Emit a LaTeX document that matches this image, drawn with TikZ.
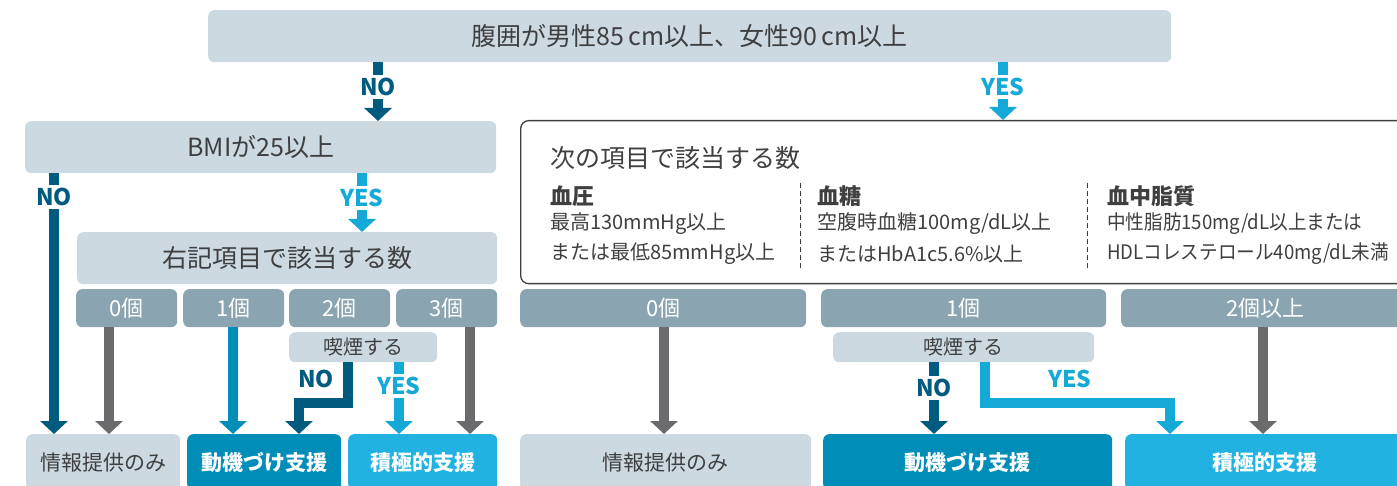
\documentclass[tikz,border=0pt]{standalone}
\usepackage{fontspec}
\setmainfont{Noto Sans CJK JP}
\newfontfamily\narrowjp{Noto Sans CJK JP}[FakeStretch=0.93]
\usetikzlibrary{arrows.meta,positioning}
\definecolor{boxgray}{HTML}{CCD9E1}
\definecolor{cntgray}{HTML}{8AA5B1}
\definecolor{nodark}{HTML}{005B7F}
\definecolor{midblue}{HTML}{008DB8}
\definecolor{yesblue}{HTML}{15A9D8}
\definecolor{skyblue}{HTML}{22B2E1}
\definecolor{arrgray}{HTML}{6B6B6E}
\definecolor{txtgray}{HTML}{3F3F3F}
\tikzstyle{every node}+=[inner sep=0pt]
\tikzstyle{qbox}=[fill=boxgray, rounded corners=6pt, text=txtgray, anchor=north west, minimum height=52pt, font=\fontsize{25}{28}\selectfont]
\tikzstyle{cntbox}=[fill=cntgray, rounded corners=6pt, text=white, anchor=north west, minimum height=38pt, font=\fontsize{22}{24}\selectfont]
\tikzstyle{smokebox}=[fill=boxgray, rounded corners=6pt, text=txtgray, anchor=north west, minimum height=30pt, font=\fontsize{20}{22}\selectfont]
\tikzstyle{resbox}=[rounded corners=6pt, anchor=north west, minimum height=56pt, font=\fontsize{21}{24}\selectfont]
\tikzstyle{arr}=[line width=10pt, -{Triangle[width=27pt,length=13pt]}]
\tikzstyle{lbl}=[fill=white, inner sep=3pt, font=\bfseries\fontsize{23}{24}\selectfont]
\tikzstyle{crittxt}=[anchor=west, text=txtgray, font=\fontsize{20}{22}\selectfont]
\tikzstyle{crithead}=[anchor=west, text=txtgray, font=\bfseries\fontsize{22}{24}\selectfont]
\begin{document}
\begin{tikzpicture}[x=1pt,y=-1pt]
\useasboundingbox (0,0) rectangle (1397,486);
\clip (0,0) rectangle (1397,486);

% boxes
\node[qbox, minimum width=963pt] (waist) at (208,10) {腹囲が男性85\,cm以上、女性90\,cm以上};
\node[qbox, minimum width=471pt] (bmi) at (25,121) {BMIが25以上};
\node[qbox, minimum width=420pt] (items) at (77,232) {右記項目で該当する数};
\node[cntbox, minimum width=101pt] (zeroA) at (76,289) {0個};
\node[cntbox, minimum width=101pt] (oneA) at (183,289) {1個};
\node[cntbox, minimum width=101pt] (twoA) at (289,289) {2個};
\node[cntbox, minimum width=101pt] (threeA) at (396,289) {3個};
\node[smokebox, minimum width=148pt] (smokeA) at (289,332) {喫煙する};
\node[resbox, fill=boxgray, text=txtgray, minimum width=154pt] (infoA) at (26,434) {情報提供のみ};
\node[resbox, fill=midblue, text=white, minimum width=154pt, font=\bfseries\fontsize{21}{24}\selectfont] (motA) at (187,434) {動機づけ支援};
\node[resbox, fill=skyblue, text=white, minimum width=149pt, font=\bfseries\fontsize{21}{24}\selectfont] (posA) at (348,434) {積極的支援};

\node[draw=txtgray, line width=1.3pt, rounded corners=8pt, anchor=north west, minimum width=900pt, minimum height=163pt] (crit) at (520,120) {};
\node[anchor=west, text=txtgray, font=\fontsize{25}{28}\selectfont] (critT) at (550,158) {次の項目で該当する数};
\node[crithead] (bpH) at (550,196) {血圧};
\node[crittxt] (bp1) at (550,224) {最高130mmHg以上};
\node[crittxt] (bp2) at (550,254) {または最低85mmHg以上};
\node[crithead] (bsH) at (817,196) {血糖};
\node[crittxt] (bs1) at (817,224) {空腹時血糖100mg/dL以上};
\node[crittxt] (bs2) at (817,254) {またはHbA1c5.6\%以上};
\node[crithead] (lpH) at (1107,196) {血中脂質};
\node[crittxt, font=\narrowjp\fontsize{20}{22}\selectfont] (lp1) at (1107,224) {中性脂肪150mg/dL以上または};
\node[crittxt, font=\narrowjp\fontsize{20}{22}\selectfont] (lp2) at (1107,254) {HDLコレステロール40mg/dL未満};
\draw[txtgray, line width=0.8pt, dash pattern=on 5pt off 3pt] (800,183) -- (800,268);
\draw[txtgray, line width=0.8pt, dash pattern=on 5pt off 3pt] (1087,183) -- (1087,268);

\node[cntbox, minimum width=286pt] (zeroB) at (520,289) {0個};
\node[cntbox, minimum width=285pt] (oneB) at (821,289) {1個};
\node[cntbox, minimum width=288pt] (twoB) at (1121,289) {2個以上};
\node[smokebox, minimum width=261pt] (smokeB) at (833,332) {喫煙する};
\node[resbox, fill=boxgray, text=txtgray, minimum width=291pt] (infoB) at (520,434) {情報提供のみ};
\node[resbox, fill=midblue, text=white, minimum width=289pt, font=\bfseries\fontsize{21}{24}\selectfont] (motB) at (823,434) {動機づけ支援};
\node[resbox, fill=skyblue, text=white, minimum width=280pt, font=\bfseries\fontsize{21}{24}\selectfont] (posB) at (1125,434) {積極的支援};

% arrow columns
\coordinate (cWaistNo) at (378,0);
\coordinate (cWaistYes) at (1003,0);
\coordinate (cBmiNo) at (54,0);
\coordinate (cBmiYes) at (362,0);
\coordinate (cZeroA) at (109,0);
\coordinate (cOneA) at (233,0);
\coordinate (cSmkYesA) at (399,0);
\coordinate (cThreeA) at (470,0);
\coordinate (bendA1) at (348,403);
\coordinate (bendA2) at (299,403);
\coordinate (cZeroB) at (664,0);
\coordinate (cSmkNoB) at (934,0);
\coordinate (bendB1) at (985,403);
\coordinate (bendB2) at (1170,403);
\coordinate (cTwoB) at (1263,0);

% arrows
\draw[arr, nodark] (waist.south -| cWaistNo) -- (bmi.north -| cWaistNo);
\draw[arr, yesblue] (waist.south -| cWaistYes) -- (crit.north -| cWaistYes);
\draw[arr, nodark] (bmi.south -| cBmiNo) -- (infoA.north -| cBmiNo);
\draw[arr, yesblue] (bmi.south -| cBmiYes) -- (items.north -| cBmiYes);
\draw[arr, arrgray] (zeroA.south -| cZeroA) -- (infoA.north -| cZeroA);
\draw[arr, midblue] (oneA.south -| cOneA) -- (motA.north -| cOneA);
\draw[arr, nodark] (smokeA.south -| bendA1) -- (bendA1) -- (bendA2) -- (motA.north -| bendA2);
\draw[arr, yesblue] (smokeA.south -| cSmkYesA) -- (posA.north -| cSmkYesA);
\draw[arr, arrgray] (threeA.south -| cThreeA) -- (posA.north -| cThreeA);
\draw[arr, arrgray] (zeroB.south -| cZeroB) -- (infoB.north -| cZeroB);
\draw[arr, nodark] (smokeB.south -| cSmkNoB) -- (motB.north -| cSmkNoB);
\draw[arr, yesblue] (smokeB.south -| bendB1) -- (bendB1) -- (bendB2) -- (posB.north -| bendB2);
\draw[arr, arrgray] (twoB.south -| cTwoB) -- (posB.north -| cTwoB);

% labels
\node[lbl, text=nodark] (noWaist) at (378,87) {NO};
\node[lbl, text=yesblue] (yesWaist) at (1003,87) {YES};
\node[lbl, text=nodark] (noBmi) at (54,197) {NO};
\node[lbl, text=yesblue] (yesBmi) at (362,198) {YES};
\node[lbl, text=nodark] (noSmkA) at (316,379) {NO};
\node[lbl, text=yesblue] (yesSmkA) at (399,386) {YES};
\node[lbl, text=nodark] (noSmkB) at (934,388) {NO};
\node[lbl, text=yesblue] (yesSmkB) at (1070,379) {YES};
\end{tikzpicture}
\end{document}
